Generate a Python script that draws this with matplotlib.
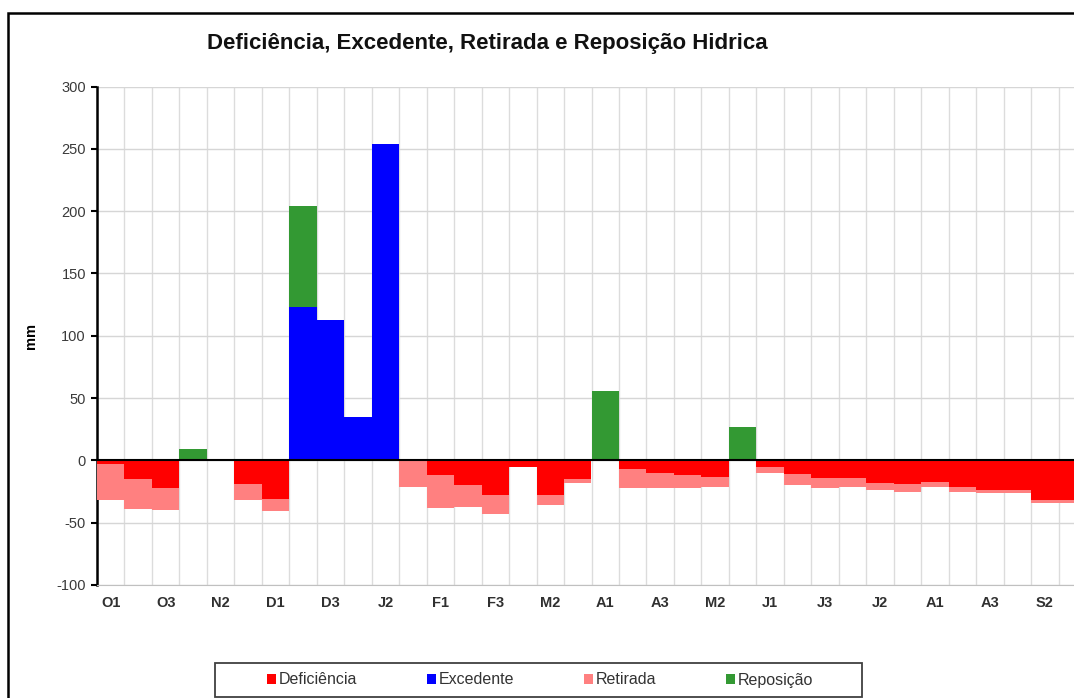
import matplotlib
matplotlib.use("Agg")
import matplotlib.pyplot as plt
import numpy as np
from matplotlib.patches import Patch, Rectangle

plt.rcParams['font.family'] = ['Liberation Sans', 'DejaVu Sans']

# 36 ten-day periods (Oct .. Sep), labelled every second one
tick_labels = ["O1", "O3", "N2", "D1", "D3", "J2", "F1", "F3", "M2", "A1",
               "A3", "M2", "J1", "J3", "J2", "A1", "A3", "S2"]

# values in mm (negative series shown below zero)
deficiencia = [-3, -15, -22, 0, 0, -19, -31, 0, 0, 0, 0, 0,
               -11.5, -19.5, -28, -5, -28, -15, 0, -7, -10, -12, -13, 0,
               -5, -11, -14, -14, -18, -19, -17, -21.5, -23.5, -24, -31.5, -32]
retirada = [-28.5, -24, -17.5, 0, 0, -12.5, -10, 0, 0, 0, 0, -21,
            -26.5, -18, -15, 0, -8, -3, 0, -15, -12, -10.5, -8.5, 0,
            -5, -9, -8, -7.5, -6, -6, -4.5, -3.5, -3, -2.5, -2.5, -2]
excedente = [0, 0, 0, 0, 0, 0, 0, 123, 112.5, 34.5, 253.5, 0,
             0, 0, 0, 0, 0, 0, 0, 0, 0, 0, 0, 0,
             0, 0, 0, 0, 0, 0, 0, 0, 0, 0, 0, 0]
reposicao = [0, 0, 0, 9, 0, 0, 0, 81.5, 0, 0, 0, 0,
             0, 0, 0, 0, 0, 0, 56, 0, 0, 0, 0, 27,
             0, 0, 0, 0, 0, 0, 0, 0, 0, 0, 0, 0]

c_def = "#FF0000"
c_exc = "#0000FF"
c_ret = "#FF8080"
c_rep = "#339933"

W, H = 1074, 698
fig = plt.figure(figsize=(W / 100, H / 100), dpi=100)
fig.patch.set_facecolor("white")

# outer frame (cropped at right/bottom)
fig.patches.append(Rectangle((8 / W, -0.2), 1.5, 1 - 13 / H + 0.2,
                             transform=fig.transFigure, fill=False,
                             edgecolor="black", linewidth=1.8, clip_on=False))

left, right, top, bottom = 97, 1086, 86.5, 585
ax = fig.add_axes([left / W, 1 - bottom / H, (right - left) / W, (bottom - top) / H])

x = np.arange(len(deficiencia))
d = np.array(deficiencia)
r = np.array(retirada)
e = np.array(excedente)
p = np.array(reposicao)

ax.bar(x, d, width=1.0, color=c_def, zorder=3, linewidth=0)
ax.bar(x, e, width=1.0, color=c_exc, zorder=3, linewidth=0)
ax.bar(x, r, bottom=d, width=1.0, color=c_ret, zorder=3, linewidth=0)
ax.bar(x, p, bottom=e, width=1.0, color=c_rep, zorder=3, linewidth=0)

ax.set_xlim(-0.5, len(x) - 0.5)
ax.set_ylim(-100, 300)
ax.set_yticks(np.arange(-100, 301, 50))
ax.set_yticklabels([str(v) for v in range(-100, 301, 50)], fontsize=10.5, color="#3a3a3a")
ax.tick_params(axis="y", direction="out", length=4, width=1.5, color="black", pad=4)

ax.set_xticks(np.arange(0, len(x), 2))
ax.set_xticklabels(tick_labels, fontsize=10.5, fontweight="bold", color="#303030")
ax.tick_params(axis="x", length=0, pad=8)
ax.set_xticks(np.arange(-0.5, len(x), 1.0), minor=True)
ax.tick_params(axis="x", which="minor", length=0)

ax.grid(axis="y", which="major", color="#d6d6d6", linewidth=1, zorder=0)
ax.grid(axis="x", which="minor", color="#dcdcdc", linewidth=1, zorder=0)

ax.axhline(0, color="black", linewidth=1.5, zorder=4)

for s in ["top", "right"]:
    ax.spines[s].set_visible(False)
ax.spines["bottom"].set_color("#c0c0c0")
ax.spines["left"].set_color("black")
ax.spines["left"].set_linewidth(1.8)

ax.set_ylabel("mm", fontsize=10.5, fontweight="bold")
ax.yaxis.set_label_coords((38 - left) / (right - left), 0.5)

fig.text(487 / W, 1 - 43 / H, "Deficiência, Excedente, Retirada e Reposição Hidrica",
         ha="center", va="center", fontsize=16, fontweight="bold", color="#111111")

handles = [Patch(facecolor=c_def, label="Deficiência"),
           Patch(facecolor=c_exc, label="Excedente"),
           Patch(facecolor=c_ret, label="Retirada"),
           Patch(facecolor=c_rep, label="Reposição")]
leg = fig.legend(handles=handles, loc="center", ncol=4,
                 bbox_to_anchor=(540 / W, 1 - 680 / H),
                 bbox_transform=fig.transFigure,
                 frameon=False, fontsize=11.5, handlelength=0.55, handleheight=0.55,
                 handletextpad=0.15, columnspacing=4.4, borderpad=0.2)
for t in leg.get_texts():
    t.set_color("#333333")

# legend frame
fig.patches.append(Rectangle((215 / W, 1 - 697 / H), 647 / W, 34 / H,
                             transform=fig.transFigure, fill=False,
                             edgecolor="#404040", linewidth=1.3))

fig.savefig("out.png", dpi=100)
